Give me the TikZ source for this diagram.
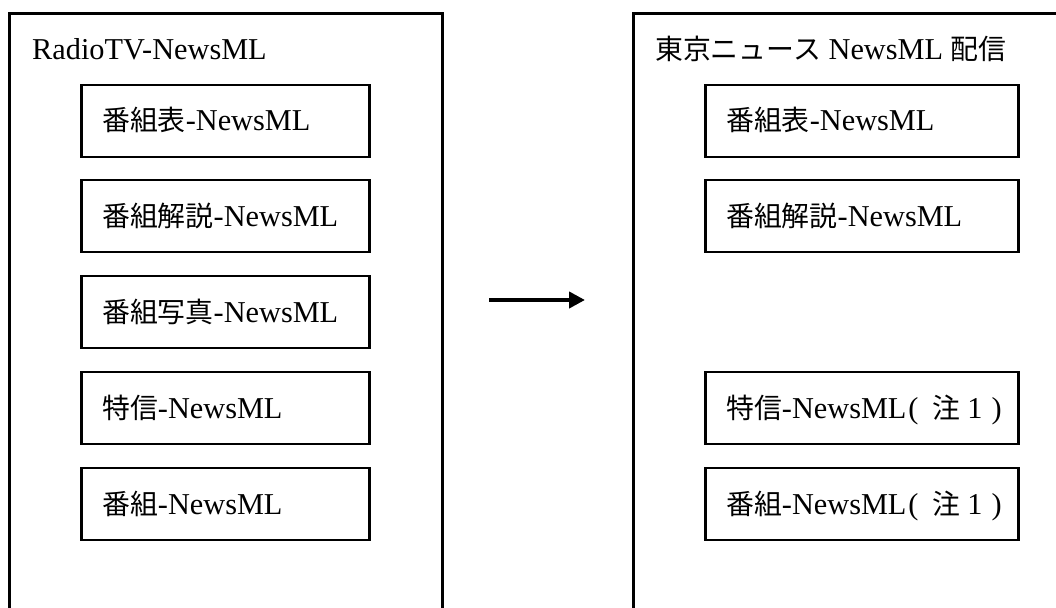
\documentclass[tikz,border=0pt]{standalone}
\usepackage{fontspec}
\setmainfont{Liberation Serif}
\newfontfamily\jp[Scale=0.92]{Noto Sans CJK JP}
\usetikzlibrary{arrows.meta}
\newcommand{\itemtext}[1]{\makebox[10pt][l]{#1}}
\begin{document}
\begin{tikzpicture}[x=1pt,y=-1pt,
  outerbox/.style={draw, line width=2.8pt, anchor=north west, inner sep=0pt},
  itembox/.style={draw, line width=2.6pt, anchor=west,
    minimum width=288pt, minimum height=72pt,
    inner xsep=0pt, inner ysep=0pt,
    font=\fontsize{30.3}{36}\selectfont},
  itemtext/.style={anchor=base west, inner sep=0pt, font=\fontsize{30.3}{36}\selectfont},
  titletext/.style={anchor=base west, inner sep=0pt, font=\fontsize{30.3}{36}\selectfont},
  flow/.style={line width=4pt, -{Triangle[length=16pt,width=16pt]}}]
\useasboundingbox (0,0) rectangle (1056,607);
\clip (0,0) rectangle (1056,607);
% outer frames
\node[outerbox, minimum width=433pt, minimum height=640pt] (L) at (8,12) {};
\node[outerbox, minimum width=460pt, minimum height=640pt] (R) at (632,12) {};
% titles
\node[titletext] (LT) at (32,60) {RadioTV-NewsML};
\node[titletext] (RT) at (655,60) {{\jp 東京ニュース} NewsML {\jp 配信}};
% left items (boxes)
\node[itembox] (L1) at (80,121) {};
\node[itembox] (L2) at (80,216) {};
\node[itembox] (L3) at (80,312) {};
\node[itembox] (L4) at (80,408) {};
\node[itembox] (L5) at (80,504) {};
% left items (texts)
\node[itemtext] (L1t) at (102,130) {{\jp 番組表}-NewsML};
\node[itemtext] (L2t) at (102,226) {{\jp 番組解説}-NewsML};
\node[itemtext] (L3t) at (102,322) {{\jp 番組写真}-NewsML};
\node[itemtext] (L4t) at (102,418) {{\jp 特信}-NewsML};
\node[itemtext] (L5t) at (102,514) {{\jp 番組}-NewsML};
% right items (boxes)
\node[itembox, minimum width=313pt] (R1) at (704,121) {};
\node[itembox, minimum width=313pt] (R2) at (704,216) {};
\node[itembox, minimum width=313pt] (R4) at (704,408) {};
\node[itembox, minimum width=313pt] (R5) at (704,504) {};
% right items (texts)
\node[itemtext] (R1t) at (726,130) {{\jp 番組表}-NewsML};
\node[itemtext] (R2t) at (726,226) {{\jp 番組解説}-NewsML};
\node[itemtext] (R4t) at (726,418) {{\jp 特信}-NewsML\hspace{2pt}(\hspace{14pt}{\jp 注}\hspace{7pt}1\hspace{9pt})};
\node[itemtext] (R5t) at (726,514) {{\jp 番組}-NewsML\hspace{2pt}(\hspace{14pt}{\jp 注}\hspace{7pt}1\hspace{9pt})};
% arrow
\coordinate (A1) at (489,300);
\coordinate (A2) at (585,300);
\draw[flow] (A1) -- (A2);
\end{tikzpicture}
\end{document}
